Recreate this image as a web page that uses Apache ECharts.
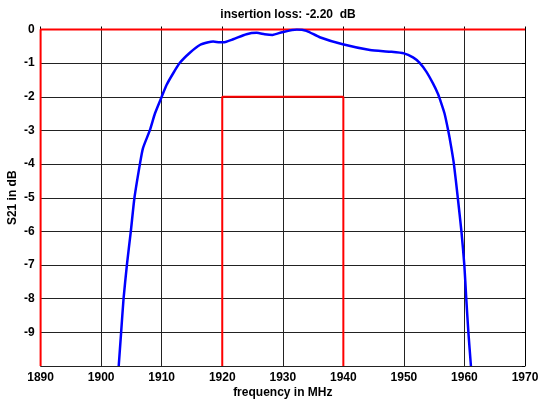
<!DOCTYPE html>
<html><head><meta charset="utf-8">
<script src="https://cdn.jsdelivr.net/npm/echarts@6/dist/echarts.min.js"></script>
<style>html,body{margin:0;padding:0;background:#fff}#c{width:540px;height:401px}</style>
</head><body><div id="c"></div>
<script>
var titleText = 'insertion loss: -2.20  dB';
var xName = 'frequency in MHz';
var yName = 'S21 in dB';
var freq = [1902.9,1903.3,1903.7,1904.25,1904.9,1905.5,1906.4,1906.9,1908.05,1908.9,1910.0,1910.8,1911.9,1913.0,1914.65,1916.3,1917.7,1918.5,1919.6,1920.2,1921.8,1924.0,1925.7,1927.0,1928.3,1929.9,1932.3,1933.9,1936.1,1939.9,1944.4,1947.7,1950.0,1951.5,1952.6,1953.7,1954.8,1955.6,1956.0,1956.7,1957.3,1957.8,1958.26,1958.9,1959.5,1959.98,1960.3,1960.65,1961.07];
var s21  = [-10,-9,-8,-7,-6,-5,-4,-3.53,-2.99,-2.49,-2.0,-1.65,-1.30,-0.99,-0.69,-0.46,-0.38,-0.36,-0.38,-0.38,-0.29,-0.14,-0.10,-0.14,-0.16,-0.08,0,-0.04,-0.23,-0.44,-0.61,-0.66,-0.71,-0.83,-0.99,-1.25,-1.60,-1.90,-2.10,-2.49,-2.99,-3.48,-4,-5,-6,-7,-8,-9,-10];
var maskFreq = [1890,1890,1970,null,1920,1920,1940,1940];
var maskDb   = [-10,0,0,null,-10,-2,-2,-10];
var xTicks = {min:1890,max:1970,step:10};
var yTicks = {min:-10,max:0,step:1};

var curve = freq.map(function(f,i){return [f,s21[i]];});
var mask = maskFreq.map(function(f,i){return f===null?[null,null]:[f,maskDb[i]];});
var font = {fontFamily:'Liberation Sans, Arial, sans-serif',fontWeight:'bold',fontSize:12,color:'#000'};
var chart = echarts.init(document.getElementById('c'),null,{renderer:'canvas'});
chart.setOption({
  animation:false,
  title:{text:titleText,left:283,top:4,textAlign:'center',textStyle:{fontFamily:font.fontFamily,fontWeight:'bold',fontSize:12,color:'#000'}},
  grid:{left:40.6,right:15,top:29.5,bottom:35,containLabel:false,outerBoundsMode:'none'},
  xAxis:{type:'value',min:xTicks.min,max:xTicks.max,interval:xTicks.step,
    name:xName,nameLocation:'middle',nameGap:21,nameMoveOverlap:false,nameTextStyle:font,
    axisLine:{show:true,lineStyle:{color:'#000',width:1}},
    axisTick:{show:true,inside:true,length:3,lineStyle:{color:'#000'}},
    axisLabel:Object.assign({margin:6,formatter:function(v){return String(v);}},font),
    splitLine:{show:true,lineStyle:{color:'#222',width:1}}},
  yAxis:[{type:'value',min:yTicks.min,max:yTicks.max,interval:yTicks.step,
    name:yName,nameLocation:'middle',nameGap:22,nameMoveOverlap:false,nameRotate:90,nameTextStyle:font,
    axisLine:{show:true,lineStyle:{color:'#000'}},
    axisTick:{show:false},
    axisLabel:Object.assign({margin:6,formatter:function(v){return v===-10?'':String(v);}},font),
    splitLine:{show:true,lineStyle:{color:'#222',width:1}}},
   {type:'value',position:'right',min:yTicks.min,max:yTicks.max,interval:yTicks.step,
    axisLine:{show:true,lineStyle:{color:'#000'}},
    axisTick:{show:true,inside:true,length:3,lineStyle:{color:'#000'}},
    axisLabel:{show:false},splitLine:{show:false}}],
  series:[
    {type:'line',data:mask,showSymbol:false,connectNulls:false,lineStyle:{color:'#ff0000',width:2},z:3,clip:false},
    {type:'line',data:curve,showSymbol:false,smooth:0.2,lineStyle:{color:'#0000ff',width:2.5},z:4}
  ]
});
</script></body></html>
